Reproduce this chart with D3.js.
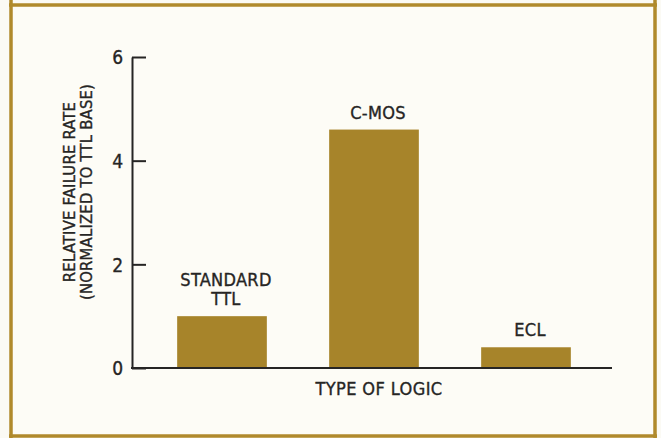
<!DOCTYPE html>
<html>
<head>
<meta charset="utf-8">
<script src="https://cdn.jsdelivr.net/npm/d3@7"></script>
<style>
  html, body { margin: 0; padding: 0; background: #fbfaf4; }
  svg { display: block; }
  text { font-family: "DejaVu Sans Condensed", "DejaVu Sans", sans-serif; font-stretch: condensed; fill: #262524; stroke: #262524; stroke-width: 0.35px; }
</style>
</head>
<body>
<svg id="chart" width="661" height="438"></svg>
<script>
const categories = ["STANDARD TTL", "C-MOS", "ECL"];
const labelLines = [["STANDARD", "TTL"], ["C-MOS"], ["ECL"]];
const values = [1.0, 4.6, 0.4];
const yTicks = [0, 2, 4, 6];
const yTitle = ["RELATIVE FAILURE RATE", "(NORMALIZED TO TTL BASE)"];
const xTitle = "TYPE OF LOGIC";

const W = 661, H = 438;
const gold = "#b08a2c";
const barColor = "#a7842a";
const ink = "#262524";

const svg = d3.select("#chart");

// background
svg.append("rect").attr("x", 0).attr("y", 0).attr("width", W).attr("height", H).attr("fill", "#fbfaf4");
svg.append("rect").attr("x", 11).attr("y", 5).attr("width", 644).attr("height", 431).attr("fill", "#fdfcf6");

// frame
svg.append("line").attr("x1", 11).attr("x2", 11).attr("y1", 0).attr("y2", H).attr("stroke", gold).attr("stroke-width", 3.5);
svg.append("line").attr("x1", 655).attr("x2", 655).attr("y1", 0).attr("y2", H).attr("stroke", gold).attr("stroke-width", 3.5);
svg.append("line").attr("x1", 9).attr("x2", 657).attr("y1", 5).attr("y2", 5).attr("stroke", gold).attr("stroke-width", 3.5);
svg.append("line").attr("x1", 9).attr("x2", 657).attr("y1", 436).attr("y2", 436).attr("stroke", gold).attr("stroke-width", 3.5);

const x0 = 132, xEnd = 612;
const y = d3.scaleLinear().domain([0, 6]).range([368, 57]);
const x = d3.scaleBand().domain(categories).range([146, 602]).paddingInner(0.41).paddingOuter(0.205);

// bars
svg.append("g").selectAll("rect").data(values).join("rect")
  .attr("x", (d, i) => x(categories[i]))
  .attr("width", x.bandwidth())
  .attr("y", d => y(d))
  .attr("height", d => y(0) - y(d))
  .attr("fill", barColor);

// y axis
const yAxis = d3.axisLeft(y).tickValues(yTicks).tickFormat(d3.format("d"))
  .tickSizeInner(-14).tickSizeOuter(0).tickPadding(9);
const gy = svg.append("g").attr("transform", `translate(${x0},0)`).call(yAxis);
gy.attr("font-family", null).attr("font-size", null);
gy.select(".domain").attr("stroke", ink).attr("stroke-width", 2);
gy.selectAll(".tick line").attr("stroke", ink).attr("stroke-width", 2);
gy.selectAll(".tick text").attr("font-size", 19).attr("fill", ink).attr("dy", "0.36em");

// x baseline
svg.append("line").attr("x1", x0 - 1).attr("x2", xEnd).attr("y1", y(0)).attr("y2", y(0))
  .attr("stroke", ink).attr("stroke-width", 2);

// bar labels
const lbl = svg.append("g");
labelLines.forEach((lines, i) => {
  const cx = x(categories[i]) + x.bandwidth() / 2 + 4;
  const top = y(values[i]);
  const n = lines.length;
  lines.forEach((t, j) => {
    lbl.append("text")
      .attr("x", cx)
      .attr("y", top - 11 - (n - 1 - j) * 19)
      .attr("text-anchor", "middle")
      .attr("font-size", 18)
      .attr("letter-spacing", "0.3px")
      .text(t);
  });
});

// x title
svg.append("text").attr("x", 379).attr("y", 395).attr("text-anchor", "middle")
  .attr("font-size", 18).attr("letter-spacing", "0.4px").text(xTitle);

// y title
yTitle.forEach((t, i) => {
  svg.append("text")
    .attr("transform", `translate(${75 + i * 17},192) rotate(-90)`)
    .attr("text-anchor", "middle")
    .attr("font-size", 16.5)
    .attr("letter-spacing", "0.2px")
    .text(t);
});
</script>
</body>
</html>
